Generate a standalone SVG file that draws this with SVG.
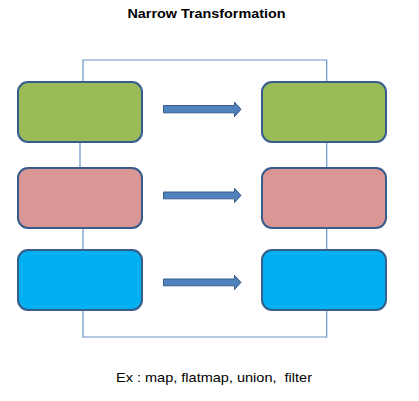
<svg xmlns="http://www.w3.org/2000/svg" width="419" height="401" viewBox="0 0 419 401">
<style>
.box{stroke:#385D8A;stroke-width:2}
.g{fill:#9BBB59}.p{fill:#D99694}.b{fill:#00B0F0}
.ln{fill:none;stroke:#6A92CC;stroke-width:1.2}
.arr{fill:#4F81BD;stroke:#385D8A;stroke-width:1}
.t{font-family:"Liberation Sans",Arial,sans-serif;fill:#000}
</style>
<rect width="419" height="401" fill="#fff"/>
<text class="t" x="206.5" y="18.3" font-size="13" font-weight="bold" text-anchor="middle" textLength="158" lengthAdjust="spacingAndGlyphs">Narrow Transformation</text>
<g id="connectors">
<polyline class="ln" points="83,88 83,60 326.7,60 326.7,88"/>
<line class="ln" x1="80" y1="142" x2="80" y2="168"/>
<line class="ln" x1="83" y1="223" x2="83" y2="250"/>
<polyline class="ln" points="83,310 83,337 326.7,337 326.7,310"/>
<line class="ln" x1="326.7" y1="142" x2="326.7" y2="168"/>
<line class="ln" x1="326.7" y1="223" x2="326.7" y2="250"/>
<polygon class="arr" points="163.5,105.5 234.5,105.5 234.5,102 241,109.3 234.5,116.8 234.5,112.8 163.5,112.8"/>
<polygon class="arr" points="163.5,192 234.5,192 234.5,188.3 241,195.4 234.5,202.5 234.5,198.8 163.5,198.8"/>
<polygon class="arr" points="163.5,279 234.5,279 234.5,275.3 241,282.4 234.5,289.5 234.5,285.8 163.5,285.8"/>
</g>
<g id="src1"><rect class="box g" x="18" y="82" width="124" height="60" rx="10"/></g>
<g id="src2"><rect class="box p" x="18" y="168" width="124" height="60" rx="10"/></g>
<g id="src3"><rect class="box b" x="18" y="250" width="124" height="60" rx="10"/></g>
<g id="dst1"><rect class="box g" x="262" y="82" width="124" height="60" rx="10"/></g>
<g id="dst2"><rect class="box p" x="262" y="168" width="124" height="60" rx="10"/></g>
<g id="dst3"><rect class="box b" x="262" y="250" width="124" height="60" rx="10"/></g>
<text class="t" x="116" y="381.7" font-size="13" textLength="196" lengthAdjust="spacingAndGlyphs" xml:space="preserve">Ex : map, flatmap, union,  filter</text>
</svg>
